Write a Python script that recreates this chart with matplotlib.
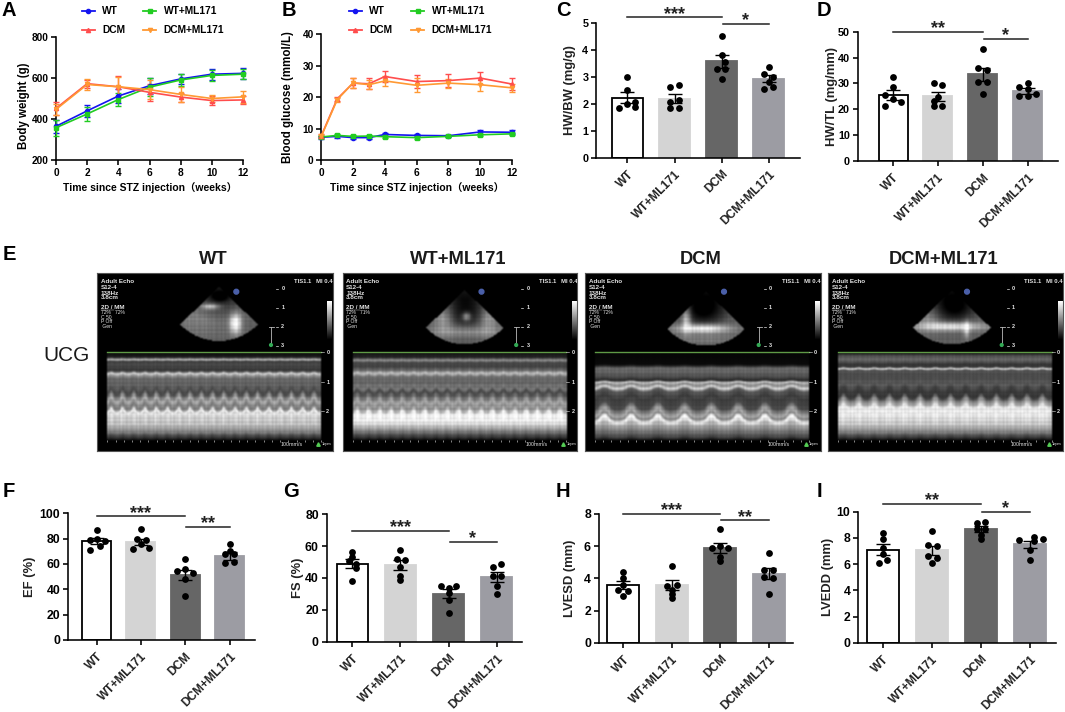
import numpy as np
import matplotlib
matplotlib.use("Agg")
import matplotlib.pyplot as plt
from matplotlib.lines import Line2D
from matplotlib.patches import Circle

FONT = ['Liberation Sans', 'Noto Sans CJK SC', 'DejaVu Sans']
plt.rcParams['font.family'] = FONT
W, H = 1065, 712

# ---------- data: line charts ----------
groups = ['WT', 'WT+ML171', 'DCM', 'DCM+ML171']
colors_line = ['#1414f0', '#22cc22', '#ff4d4d', '#ff9933']
markers = ['o', 's', '^', 'v']

weeks_a = [0, 2, 4, 6, 8, 10, 12]
bw_wt = [365, 440, 512, 562, 595, 618, 622]
bw_wt_ml = [358, 425, 495, 555, 590, 612, 618]
bw_dcm = [452, 572, 557, 530, 507, 490, 493]
bw_dcm_ml = [447, 568, 557, 543, 520, 500, 508]
bw_wt_err = [33, 30, 35, 38, 25, 27, 27]
bw_wt_ml_err = [40, 33, 30, 45, 30, 28, 25]
bw_dcm_err = [30, 20, 50, 40, 22, 20, 20]
bw_dcm_ml_err = [25, 25, 45, 45, 35, 15, 30]

weeks_b = [0, 1, 2, 3, 4, 6, 8, 10, 12]
bg_wt = [7.3, 7.6, 7.2, 7.2, 8.2, 7.9, 7.8, 9.0, 8.9]
bg_wt_ml = [7.4, 7.9, 7.6, 7.7, 7.5, 7.2, 7.6, 8.1, 8.4]
bg_dcm = [7.8, 19.5, 24.5, 24.3, 26.6, 25.0, 25.3, 26.1, 24.2]
bg_dcm_ml = [7.6, 19.2, 24.6, 24.0, 25.2, 23.8, 24.5, 24.0, 23.0]
bg_wt_err = [.4, .4, .4, .4, .4, .3, .3, .6, .7]
bg_wt_ml_err = [.3, .3, .3, .3, .3, .3, .3, .3, .3]
bg_dcm_err = [.4, .7, 1.7, 1.7, 1.7, 2.2, 2.0, 1.9, 2.0]
bg_dcm_ml_err = [.4, .7, 1.5, 1.4, 1.6, 2.2, 1.4, 2.1, 1.2]

# ---------- data: bar charts ----------
hwbw_mean = [2.22, 2.18, 3.57, 2.92]
hwbw_sem = [.2, .17, .24, .13]
hwbw_pts = [[3.0, 2.5, 2.05, 2.0, 1.88, 1.85], [2.7, 2.6, 2.15, 2.05, 1.85, 1.85],
            [4.52, 3.8, 3.55, 3.3, 3.3, 2.9], [3.35, 3.1, 3.0, 2.8, 2.55, 2.6]]
hwbw_jit = [[0, 0, .17, 0, .17, -.17], [.09, -.09, .09, -.09, -.09, .09],
            [0, 0, .08, -.09, .08, 0], [0, -.1, .1, 0, -.1, .1]]

hwtl_mean = [25.5, 25.0, 33.5, 27.2]
hwtl_sem = [1.9, 1.7, 2.5, 1.1]
hwtl_pts = [[32.6, 28.5, 25.5, 24, 23, 21.3], [30.3, 29.4, 24.6, 23.2, 21.4, 21.4],
            [43.3, 35.8, 35, 30.7, 30.7, 25.8], [28.5, 30, 27.7, 25, 25, 25.8]]
hwtl_jit = [[0, 0, -.18, 0, .18, -.18], [-.09, .09, .01, -.09, .09, -.09],
            [0, -.11, .09, -.11, .09, 0], [-.2, 0, 0, -.2, 0, .19]]

ef_mean = [78, 77.5, 51.5, 66.5]
ef_sem = [2.3, 2.4, 4, 3]
ef_pts = [[86.5, 79, 80, 78, 71, 74], [87.5, 80, 79, 72, 76, 73],
          [63.7, 54.7, 55.8, 53, 48, 34.7], [75.5, 70, 68, 68, 61, 61.3]]
ef_jit = [[0, -.16, 0, .18, -.16, .08], [0, -.1, .11, -.18, 0, .18],
          [0, -.18, 0, .17, 0, 0], [0, 0, -.1, .09, -.1, .09]]

fs_mean = [49, 48, 30, 40.5]
fs_sem = [3, 3.2, 2.8, 3]
fs_pts = [[56.5, 53, 50.5, 49, 46.5, 38], [57.5, 51.3, 52, 46.7, 41, 38.7],
          [35, 35, 33.5, 30.4, 26, 17.8], [48.6, 46.7, 41.5, 41, 35, 30]]
fs_jit = [[0, 0, -.07, .08, .08, 0], [0, .09, -.08, 0, 0, 0],
          [-.15, .15, 0, 0, 0, 0], [.09, -.07, .09, -.07, 0, 0]]

lvesd_mean = [3.58, 3.58, 5.88, 4.3]
lvesd_sem = [.27, .3, .3, .35]
lvesd_pts = [[4.4, 4.05, 3.3, 3.2, 2.9, 3.6], [4.77, 3.5, 3.6, 3.3, 3.0, 2.75],
             [7.05, 5.87, 5.87, 6.0, 5.35, 5.1], [5.6, 4.55, 4.55, 4.1, 4.0, 3.0]]
lvesd_jit = [[0, 0, -.1, .09, 0, 0], [0, -.09, .1, 0, 0, 0],
             [0, -.17, .16, 0, 0, 0], [0, -.1, .09, -.1, .08, 0]]

lvedd_mean = [7.1, 7.05, 8.68, 7.5]
lvedd_sem = [.4, .35, .22, .3]
lvedd_pts = [[8.35, 7.9, 7.2, 6.8, 6.3, 6.1], [8.5, 7.45, 7.4, 6.65, 6.45, 6.1],
             [9.15, 9.25, 8.7, 8.7, 8.2, 7.9], [7.85, 8.1, 7.9, 7.75, 7.1, 6.3]]
lvedd_jit = [[0, 0, 0, 0, .08, -.09], [0, -.09, .09, -.09, .09, 0],
             [-.09, .08, -.09, .08, 0, 0], [-.24, .08, .25, .08, 0, 0]]

# significance: (line value, star value, stars)
sig_c = [(5.2, 5.52, '***'), (4.95, 5.28, '*')]
sig_d = [(49.9, 53.5, '**'), (47.2, 50.5, '*')]
sig_f = [(98, 104.5, '***'), (89.5, 96.5, '**')]
sig_g = [(69.5, 75.4, '***'), (62.6, 68.5, '*')]
sig_h = [(8.0, 8.54, '***'), (7.6, 8.14, '**')]
sig_i = [(10.55, 11.25, '**'), (10.0, 10.7, '*')]

# ---------- data: echo panels ----------
echo_titles = ['WT', 'WT+ML171', 'DCM', 'DCM+ML171']
echo_boxes = [(97.3, 333), (342.5, 577.5), (585, 821), (828, 1063)]
echo_pct = ['72%   72%', '72%   71%', '72%   72%', '72%   71%']
echo_depth = [
    [0, 4, 6, 7, 9, 12, 18, 20, 21, 23, 26, 34, 40, 44, 48, 54, 57, 59, 62, 72, 80, 84, 88],
    [0, 5, 8, 10, 15, 19, 21, 24, 30, 36, 40, 45, 50, 55, 58, 61, 68, 75, 83, 88],
    [0, 12, 16, 24, 28, 30, 32, 35, 38, 45, 54, 58, 62, 65, 68, 72, 78, 84, 88],
    [0, 4, 8, 12, 15, 16, 18, 24, 32, 38, 44, 48, 52, 55, 62, 72, 80, 85, 88]]
echo_gray = [
    [10, 25, 90, 200, 60, 75, 55, 120, 230, 150, 105, 95, 70, 120, 175, 120, 150, 250, 210, 185, 120, 60, 15],
    [15, 40, 150, 70, 70, 130, 200, 110, 100, 120, 70, 110, 170, 140, 170, 240, 245, 170, 70, 10],
    [5, 10, 110, 80, 40, 220, 120, 220, 90, 60, 75, 130, 170, 130, 245, 170, 120, 70, 15],
    [10, 90, 100, 50, 70, 240, 80, 75, 90, 60, 55, 130, 180, 245, 230, 190, 120, 50, 15]]
echo_amp_depth = [[0, 25, 40, 60, 88], [0, 25, 40, 60, 88], [0, 30, 55, 70, 88], [0, 25, 40, 60, 88]]
echo_amp = [[0, 1, 6, 4, 1], [0, 1, 4, 4, 1], [0, 1, 9, 5, 1], [0, 1, 6, 3, 1]]
echo_beats = [19, 19, 8, 14]
beat_shape = [0, .2, .55, .9, 1, .9, .55, .2, 0, -.1, -.1, -.05]
row_texture = [1.0, .86, 1.12, .93, 1.06, .82, 1.16, .97, 1.04, .88, 1.1, .94, 1.02]
col_texture = [1.0, .9, 1.07, .96, 1.1, .88, 1.02, 1.12, .92, 1.0, .95, 1.08, .86, 1.05, .98, 1.1, .91]
# fan echoes: cx, cy, sx, sy, amplitude
echo_apex = [(121.5, 13.4), (121.3, 16.7), (120.5, 18), (123.5, 16.7)]
echo_blobs = [
    [(138, 50, 4, 7, 175), (113, 33, 6, 2, 120), (122.5, 23, 6, 3.5, -70), (100, 45, 20, 12, 30)],
    [(123, 43, 3, 3, 120), (123, 43, 12, 12, -50), (123, 58, 24, 4, 60), (100, 45, 6, 10, 60), (145, 45, 6, 10, 60)],
    [(117, 38, 15, 11, -65), (118, 55, 18, 3, 170), (101, 46, 3, 9, 120), (120, 65, 20, 4, 30)],
    [(127, 35, 14, 10, -60), (122, 53, 24, 3, 150), (138, 56, 2, 6, 100), (100, 45, 8, 8, 40)]]
fan_text = ['Adult Echo', 'S12-4', '138Hz', '3.8cm', '2D / MM']


def fx(px):
    return px / W


def fy(py):
    return 1 - py / H


def make_axes(L, R, T, B):
    return fig.add_axes([fx(L), fy(B), (R - L) / W, (B - T) / H])


def t(x, y, s, size, weight='bold', ha='left', va='center', color='black', **kw):
    fig.text(fx(x), fy(y), s, fontsize=size, fontweight=weight, ha=ha, va=va, color=color, **kw)


def style(ax):
    ax.spines[['top', 'right']].set_visible(False)
    ax.spines[['left', 'bottom']].set_linewidth(1.15)
    ax.tick_params(width=1.15, length=3.5, pad=2)


def tick_font(ax, size):
    for lab in ax.get_xticklabels() + ax.get_yticklabels():
        lab.set_fontweight('bold')
        lab.set_fontsize(size)


def line_panel(box, xs, series, errs, xticks, ylim, yticks, ylabel, ylab_x, ylab_y):
    ax = make_axes(*box)
    for y, e, c, m in zip(series, errs, colors_line, markers):
        ax.errorbar(xs, y, yerr=e, color=c, marker=m, ms=3, lw=1.2, elinewidth=1.0,
                    capsize=2.2, capthick=1.0, clip_on=False, zorder=3)
    ax.set_xlim(0, 12)
    ax.set_ylim(*ylim)
    ax.set_xticks(xticks)
    ax.set_yticks(yticks)
    style(ax)
    tick_font(ax, 7.3)
    t((box[0] + box[1]) / 2 + 0.5, 188, 'Time since STZ injection（weeks）', 7.5, ha='center')
    t(ylab_x, ylab_y, ylabel, 8.3, ha='center', rotation=90)
    return ax


def legend_panel(x0, x1, y0, y1, w, g):
    spots = [(x0, y0), (x1, y0), (x0, y1), (x1, y1)]
    for (x, y), c, m, lab in zip(spots, colors_line, markers, groups):
        fig.add_artist(Line2D([fx(x), fx(x + w)], [fy(y), fy(y)], color=c, lw=1.3))
        fig.add_artist(Line2D([fx(x + w / 2)], [fy(y)], color=c, marker=m, ms=3, lw=0))
        t(x + w + g, y, lab, 7.4)


def bar_panel(box, centers, width, mean, sem, pts, jit, ylim, yticks, ylabel, ylab_x, sigs, tsize):
    L, R, T, B = box
    sp = (centers[3] - centers[0]) / 3
    ax = make_axes(*box)
    xs = np.arange(4)
    fc = ['white', '#d4d4d4', '#666666', '#9c9ca3']
    ec = ['black', '#d4d4d4', '#666666', '#9c9ca3']
    ax.bar(xs, mean, width=width / sp, color=fc, edgecolor=ec, linewidth=1.3, zorder=2)
    ax.errorbar(xs, mean, yerr=sem, fmt='none', ecolor='black', elinewidth=1.0,
                capsize=5.2, capthick=1.0, zorder=3)
    for i in range(4):
        ax.scatter(i + np.array(jit[i]), pts[i], s=24, color='black', zorder=4,
                   linewidths=0, clip_on=False)
    ax.set_xlim((L - centers[0]) / sp, (R - centers[0]) / sp)
    ax.set_ylim(*ylim)
    ax.set_yticks(yticks)
    ax.set_xticks(xs)
    ax.set_xticklabels(groups, rotation=45, ha='right', rotation_mode='anchor')
    style(ax)
    tick_font(ax, tsize)
    for lab in ax.get_xticklabels():
        lab.set_fontsize(8.6)
        lab.set_color('#222222')
    ax.tick_params(axis='x', pad=4)
    star_fs = 13
    spans = [(0, 2), (2, 3)]
    for (a, b), (ly, sy, s) in zip(spans, sigs):
        off = 0.02 if a == 2 else 0
        ax.plot([a + off, b], [ly, ly], color='#222222', lw=1.1, clip_on=False, zorder=5)
        ax.annotate(s, ((a + b) / 2, sy), xytext=(0, -0.56 * star_fs), textcoords='offset points',
                    ha='center', va='baseline', fontsize=star_fs, fontweight='bold',
                    annotation_clip=False, color='#222222')
    fig.text(fx(ylab_x), fy((T + B) / 2), ylabel, fontsize=9.4, fontweight='bold', ha='center',
             va='center', rotation=90, color='#222222')
    return ax


def echo_panel(i):
    x0, x1 = echo_boxes[i]
    y0, y1 = 273.3, 450.7
    pw, ph = x1 - x0, y1 - y0
    ax = make_axes(x0, x1, y0, y1)
    ax.set_xticks([])
    ax.set_yticks([])
    for s in ax.spines.values():
        s.set_color('#555555')
        s.set_linewidth(0.8)
    nx, ny = int(pw), int(ph)
    yy, xx = np.mgrid[0:ny, 0:nx]
    img = np.zeros((ny, nx))
    rtex = np.resize(row_texture, ny)
    ctex = np.resize(col_texture, nx)
    # fan
    ax_, ay_ = echo_apex[i]
    dx, dy = xx - ax_, yy - ay_
    rr = np.hypot(dx, dy)
    ang = np.abs(np.degrees(np.arctan2(dx, dy + 1e-6)))
    mask = (rr < 54) & (ang < 46)
    fan = np.full((ny, nx), 80.0) * np.clip(rr / 30, .3, 1.2)
    for cx, cy, sx, sy, a in echo_blobs[i]:
        fan += a * np.exp(-((xx - cx) / sx) ** 2 / 2 - ((yy - cy) / sy) ** 2 / 2)
    fan = fan * ctex[None, :] * rtex[:, None]
    img[mask] = np.clip(fan[mask], 0, 255)
    # m-mode
    mx0, mx1, my0 = 10, 224, 79
    cols = mx1 - mx0
    rows = 88
    period = cols / echo_beats[i]
    phase = (np.arange(cols) / period) % 1 * len(beat_shape)
    shape = np.array(beat_shape + beat_shape[:1])
    w = np.interp(phase, np.arange(len(shape)), shape)
    rgrid = np.arange(rows)[:, None]
    amp = np.interp(rgrid, echo_amp_depth[i], echo_amp[i])
    mm = np.interp(rgrid + amp * w[None, :] - amp * .3, echo_depth[i], echo_gray[i])
    streak = 1 + .12 * w[None, :] * (rgrid > 60)
    tex = (1 + (rtex[:rows, None] - 1) * .9) * (1 + (ctex[mx0:mx1][None, :] - 1) * .9)
    img[my0:my0 + rows, mx0:mx1] = np.clip(mm * streak * tex, 0, 255)
    # smoothing
    kernel = np.array([.25, .5, .25])
    img = np.apply_along_axis(lambda v: np.convolve(v, kernel, mode='same'), 0, img)
    img = np.apply_along_axis(lambda v: np.convolve(v, kernel, mode='same'), 1, img)
    ax.imshow(img, cmap='gray', vmin=0, vmax=255, extent=(0, nx, ny, 0), interpolation='bilinear',
              aspect='auto', zorder=1)
    ax.set_facecolor('black')
    # colour bar
    bar = np.linspace(255, 0, 40)[:, None]
    ax.imshow(bar, cmap='gray', vmin=0, vmax=255, extent=(229.5, 233.6, 66.7, 28.4), aspect='auto', zorder=2)
    # lines and marks
    ax.plot([mx0, mx1], [my0, my0], color='#5f9a46', lw=1.0, zorder=3)
    ax.plot([173.7, 173.7], [53.7, 71.7], color='#bbbbbb', lw=0.6, zorder=3)
    ax.plot([171.7, 176.5], [53.7, 53.7], color='#bbbbbb', lw=0.6, zorder=3)
    ax.add_patch(Circle((173.7, 71.7), 1.4, color='#33aa55', zorder=4))
    ax.add_patch(Circle((139, 18.4), 2.4, color='#4a5fa8', zorder=4))
    col = '#e4e4e4'
    for s, y in zip(fan_text, [8.4, 14.4, 20, 24.4, 34.4]):
        ax.text(3.7, y, s, color=col, fontsize=4.5, fontweight='bold', va='center', zorder=5)
    ax.plot([3.7, 17], [36.5, 36.5], color=col, lw=0.3, zorder=5)
    for s, y in zip([echo_pct[i], 'C 50', 'P Off', ' Gen'], [39.5, 43.8, 48, 52.7]):
        ax.text(3.7, y, s, color=col, fontsize=3.6, va='center', zorder=5)
    ax.text(196.5, 8.4, 'TIS1.1   MI 0.4', color=col, fontsize=4.2, fontweight='bold', va='center',
            zorder=5, clip_on=True)
    for s, y in zip('0123', [15.7, 34.4, 53.7, 72.4]):
        ax.text(184, y, s, color=col, fontsize=4, va='center', fontweight='bold', zorder=5)
        ax.plot([178.8, 181], [y, y], color=col, lw=0.5, zorder=5)
    for s, y in zip('012', [79, 109, 138]):
        ax.text(229, y, s, color=col, fontsize=4, va='center', fontweight='bold', zorder=5)
        ax.plot([224, 227], [y, y], color=col, lw=0.4, zorder=5)
    ax.plot(np.linspace(mx0, mx1, 27), [167.5] * 27, ls='none', marker='|', ms=1.5, mew=0.5,
            color='#bbbbbb', zorder=5)
    ax.text(183, 171, '100mm/s', color=col, fontsize=3.8, va='center', zorder=5)
    ax.plot([221], [171], marker='^', ms=2.5, color='#55cc55', zorder=5)
    ax.text(224, 170.5, '1bpm', color=col, fontsize=2.8, va='center', zorder=5)
    ax.set_xlim(0, pw)
    ax.set_ylim(ph, 0)
    t((x0 + x1) / 2 - 2, 260, echo_titles[i], 13.2, ha='center', color='#1a1a1a')


fig = plt.figure(figsize=(W / 100, H / 100), dpi=100)

# A, B
line_panel((56, 243, 36.7, 160.3), weeks_a, [bw_wt, bw_wt_ml, bw_dcm, bw_dcm_ml],
           [bw_wt_err, bw_wt_ml_err, bw_dcm_err, bw_dcm_ml_err],
           [0, 2, 4, 6, 8, 10, 12], (200, 800), [200, 400, 600, 800], 'Body weight (g)', 24, 106)
line_panel((321.3, 512, 34.3, 160.3), weeks_b, [bg_wt, bg_wt_ml, bg_dcm, bg_dcm_ml],
           [bg_wt_err, bg_wt_ml_err, bg_dcm_err, bg_dcm_ml_err],
           [0, 2, 4, 6, 8, 10, 12], (0, 40), [0, 10, 20, 30, 40], 'Blood glucose (mmol/L)', 288, 97)
legend_panel(81.6, 143, 11, 30, 13, 7.5)
legend_panel(348.6, 411, 11, 30, 13, 7.5)

# C, D
bar_panel((596, 800, 22.7, 157.7), [627.4, 674.4, 721.7, 768.7], 31, hwbw_mean, hwbw_sem, hwbw_pts, hwbw_jit,
          (0, 5), [0, 1, 2, 3, 4, 5], 'HW/BW (mg/g)', 570, sig_c, 7.8)
bar_panel((857.6, 1057.5, 31.7, 161), [893, 937.5, 982.8, 1027.7], 29, hwtl_mean, hwtl_sem, hwtl_pts, hwtl_jit,
          (0, 50), [0, 10, 20, 30, 40, 50], 'HW/TL (mg/mm)', 832, sig_d, 7.8)
# F, G
bar_panel((68, 255, 513.3, 640), [96.6, 141.2, 185.4, 229.7], 29, ef_mean, ef_sem, ef_pts, ef_jit,
          (0, 100), [0, 20, 40, 60, 80, 100], 'EF (%)', 30, sig_f, 8.8)
bar_panel((326.5, 521.6, 514.3, 641.7), [352.3, 400.7, 448.7, 496.8], 31, fs_mean, fs_sem, fs_pts, fs_jit,
          (0, 80), [0, 20, 40, 60, 80], 'FS (%)', 298, sig_g, 8.8)
# H, I
bar_panel((598.6, 793.4, 514, 642.7), [623.3, 671.7, 720.7, 769], 32, lvesd_mean, lvesd_sem, lvesd_pts, lvesd_jit,
          (0, 8), [0, 2, 4, 6, 8], 'LVESD (mm)', 570, sig_h, 8.8)
bar_panel((858, 1055.5, 511.7, 642.7), [883, 932, 981.4, 1030.4], 32, lvedd_mean, lvedd_sem, lvedd_pts, lvedd_jit,
          (0, 10), [0, 2, 4, 6, 8, 10], 'LVEDD (mm)', 828, sig_i, 8.8)

# E
for k in range(4):
    echo_panel(k)
t(43, 355, 'UCG', 15, weight='normal', color='#1a1a1a')

# panel letters
letters = [('A', 2, 10.5), ('B', 282, 10.5), ('C', 556, 10.5), ('D', 817, 10.5), ('E', 3, 254.5),
           ('F', 3, 491.5), ('G', 283, 491.5), ('H', 556, 491.5), ('I', 817, 491.5)]
for s, x, y in letters:
    t(x, y, s, 14.5)

fig.savefig('out.png', dpi=100)
